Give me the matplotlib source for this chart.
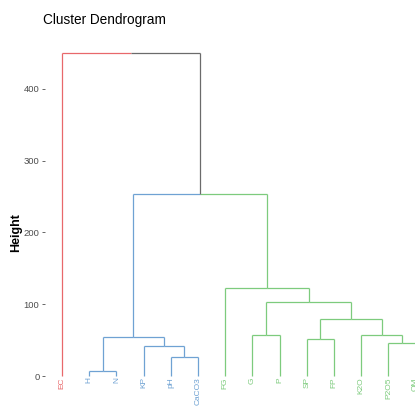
import matplotlib
matplotlib.use("Agg")
import matplotlib.pyplot as plt
from matplotlib import font_manager

plt.rcParams['font.family'] = ['Liberation Sans', 'DejaVu Sans']
_names = {f.name for f in font_manager.fontManager.ttflist}
narrow = 'Liberation Sans Narrow' if 'Liberation Sans Narrow' in _names else 'Liberation Sans'

# ---- data ----
labels = ["EC", "H", "N", "KP", "pH", "CaCO3", "FG", "G", "P", "SP", "FP", "K2O", "P2O5", "OM"]
leaf_cluster = [0, 1, 1, 1, 1, 1, 2, 2, 2, 2, 2, 2, 2, 2]
# merges (linkage style): new node id = 14 + row
merge_left = [1, 4, 3, 14, 9, 12, 11, 18, 7, 22, 6, 17, 0]
merge_right = [2, 5, 15, 16, 10, 13, 19, 20, 8, 21, 23, 24, 25]
merge_height = [6.5, 26, 42, 54, 51, 46, 57, 80, 57, 103, 122, 253, 450]
cluster_colors = ["#E8686B", "#6FA2D3", "#7DCB7D"]
mixed_color = "#6b6b6b"
y_ticks = [0, 100, 200, 300, 400]

# ---- figure ----
W, H = 415, 413
fig = plt.figure(figsize=(W / 100, H / 100), dpi=100)
left_px, right_px = 45, 415
top_px, bottom_px = 40, 392
ax = fig.add_axes([left_px / W, 1 - bottom_px / H, (right_px - left_px) / W, (bottom_px - top_px) / H])
spacing = 27.2
x0 = 62
ax.set_xlim((left_px - x0) / spacing, (right_px - x0) / spacing)
ypp = 0.718
ax.set_ylim((376 - bottom_px) / ypp, (376 - top_px) / ypp)

n = len(labels)
xpos = {i: float(i) for i in range(n)}
ypos = {i: 0.0 for i in range(n)}
color = {i: cluster_colors[leaf_cluster[i]] for i in range(n)}
clusters = {i: {leaf_cluster[i]} for i in range(n)}

lw = 0.9
for k, (a, b, h) in enumerate(zip(merge_left, merge_right, merge_height)):
    nid = n + k
    xa, xb = xpos[a], xpos[b]
    xm = (xa + xb) / 2
    for c in (a, b):
        ax.plot([xpos[c], xpos[c]], [ypos[c], h], color=color[c], lw=lw, clip_on=False, solid_capstyle='butt')
        ax.plot([xpos[c], xm], [h, h], color=color[c], lw=lw, clip_on=False, solid_capstyle='butt')
    xpos[nid] = xm
    ypos[nid] = h
    clusters[nid] = clusters[a] | clusters[b]
    color[nid] = cluster_colors[list(clusters[nid])[0]] if len(clusters[nid]) == 1 else mixed_color

for i, lab in enumerate(labels):
    ax.text(i, -1.5, lab, rotation=90, ha='center', va='top', fontsize=6,
            color=cluster_colors[leaf_cluster[i]], clip_on=False)

for s in ax.spines.values():
    s.set_visible(False)
ax.set_xticks([])
ax.set_yticks(y_ticks)
ax.set_yticklabels([str(v) for v in y_ticks], fontfamily=narrow)
ax.tick_params(axis='y', length=2.5, width=0.6, color='#4d4d4d', labelcolor='#4d4d4d',
               labelsize=6.8, pad=1.5)
ax.set_ylabel("Height", fontsize=9, fontweight='bold', color='black')
ax.yaxis.set_label_coords((22 - left_px) / (right_px - left_px), (bottom_px - 233) / (bottom_px - top_px))

fig.text(43 / W, 1 - 13 / H, "Cluster Dendrogram", fontsize=9.8, ha='left', va='top', fontfamily=narrow)

fig.savefig("out.png", dpi=100)
